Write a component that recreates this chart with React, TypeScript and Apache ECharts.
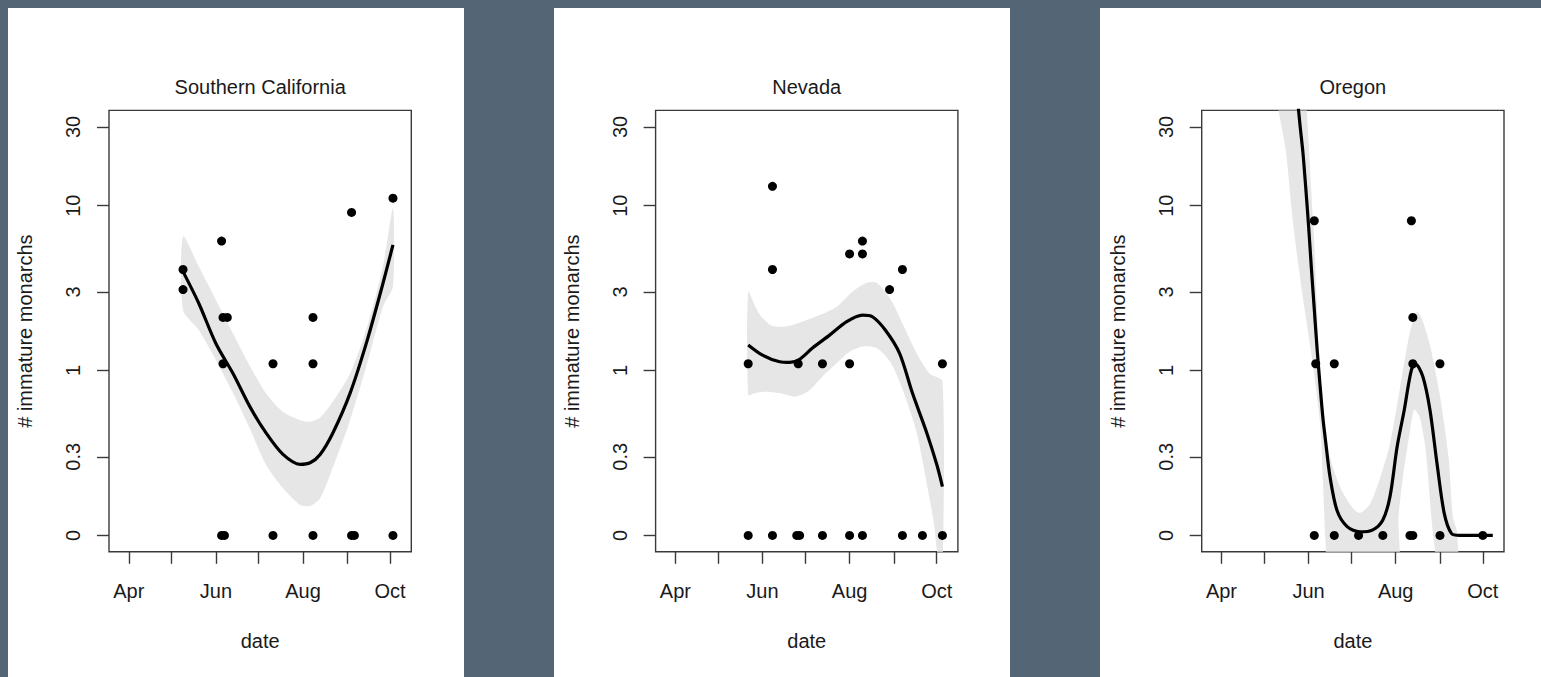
import React, { useEffect, useRef } from "react";
import * as echarts from "echarts";

type Pt = [string, number];

const REGIONS = ["Southern California", "Nevada", "Oregon"];
const Y_AXIS_TITLE = "# immature monarchs";
const X_AXIS_TITLE = "date";

const DATE_RANGE: [string, string] = ["2017-03-26", "2017-10-08"];
const MONTH_TICKS = ["2017-04-01", "2017-05-01", "2017-06-01", "2017-07-01", "2017-08-01", "2017-09-01", "2017-10-01"];
const MONTH_LABEL_DATES = ["2017-04-01", "2017-06-01", "2017-08-01", "2017-10-01"];
const MONTH_NAMES = ["Jan", "Feb", "Mar", "Apr", "May", "Jun", "Jul", "Aug", "Sep", "Oct", "Nov", "Dec"];

// counts are plotted on a log scale as (count + 0.1)
const COUNT_OFFSET = 0.1;
const COUNT_RANGE: [number, number] = [0, 30];
const Y_TICK_VALUES = [0.1, 0.3, 1, 3, 10, 30];
const Y_TICK_LABELS = ["0", "0.3", "1", "3", "10", "30"];

// ---------------- Southern California ----------------
const SOCAL_POINTS: Pt[] = [
  ["2017-05-09", 4], ["2017-05-09", 3],
  ["2017-06-05", 6], ["2017-06-05", 0],
  ["2017-06-06", 2], ["2017-06-09", 2], ["2017-06-06", 1], ["2017-06-07", 0],
  ["2017-07-11", 1], ["2017-07-11", 0],
  ["2017-08-08", 2], ["2017-08-08", 1], ["2017-08-08", 0],
  ["2017-09-04", 9], ["2017-09-04", 0], ["2017-09-06", 0],
  ["2017-10-03", 11], ["2017-10-03", 0],
];
const SOCAL_FIT: Pt[] = [
  ["2017-05-09", 3.88], ["2017-05-20", 2.46], ["2017-06-01", 1.36], ["2017-06-13", 0.86],
  ["2017-06-25", 0.5], ["2017-07-06", 0.32], ["2017-07-18", 0.21], ["2017-07-30", 0.17],
  ["2017-08-06", 0.176], ["2017-08-13", 0.21], ["2017-08-22", 0.32], ["2017-09-03", 0.63],
  ["2017-09-15", 1.43], ["2017-09-26", 3.28], ["2017-10-03", 5.68],
];
const SOCAL_UPPER: Pt[] = [
  ["2017-05-09", 6.39], ["2017-05-20", 4.17], ["2017-06-01", 2.58], ["2017-06-13", 1.58],
  ["2017-06-25", 0.96], ["2017-07-06", 0.63], ["2017-07-18", 0.46], ["2017-07-30", 0.4],
  ["2017-08-06", 0.39], ["2017-08-13", 0.42], ["2017-08-22", 0.55], ["2017-09-03", 0.86],
  ["2017-09-15", 1.75], ["2017-09-26", 4.17], ["2017-10-03", 9.54],
];
const SOCAL_LOWER: Pt[] = [
  ["2017-05-09", 2.23], ["2017-05-20", 1.66], ["2017-06-01", 1.06], ["2017-06-13", 0.63],
  ["2017-06-25", 0.34], ["2017-07-06", 0.17], ["2017-07-18", 0.093], ["2017-07-30", 0.053],
  ["2017-08-06", 0.051], ["2017-08-13", 0.068], ["2017-08-22", 0.16], ["2017-09-03", 0.4],
  ["2017-09-15", 1.01], ["2017-09-26", 2.34], ["2017-10-03", 3.13],
];

// ---------------- Nevada ----------------
const NEVADA_POINTS: Pt[] = [
  ["2017-05-22", 1], ["2017-05-22", 0],
  ["2017-06-08", 13], ["2017-06-08", 4], ["2017-06-08", 0],
  ["2017-06-26", 1], ["2017-06-25", 0], ["2017-06-27", 0],
  ["2017-07-13", 1], ["2017-07-13", 0],
  ["2017-08-01", 5], ["2017-08-01", 1], ["2017-08-01", 0],
  ["2017-08-10", 6], ["2017-08-10", 5], ["2017-08-10", 0],
  ["2017-08-29", 3],
  ["2017-09-07", 4], ["2017-09-07", 0],
  ["2017-09-21", 0],
  ["2017-10-05", 1], ["2017-10-05", 0],
];
const NEVADA_FIT: Pt[] = [
  ["2017-05-22", 1.33], ["2017-06-01", 1.14], ["2017-06-13", 1.03], ["2017-06-20", 1.02],
  ["2017-06-27", 1.07], ["2017-07-06", 1.27], ["2017-07-18", 1.54], ["2017-07-30", 1.88],
  ["2017-08-10", 2.07], ["2017-08-17", 2.02], ["2017-08-26", 1.66], ["2017-09-05", 1.17],
  ["2017-09-14", 0.63], ["2017-09-24", 0.32], ["2017-10-01", 0.17], ["2017-10-05", 0.098],
];
const NEVADA_UPPER: Pt[] = [
  ["2017-05-22", 2.91], ["2017-05-27", 2.34], ["2017-06-01", 1.98], ["2017-06-08", 1.76],
  ["2017-06-17", 1.75], ["2017-06-29", 1.88], ["2017-07-11", 2.07], ["2017-07-23", 2.34],
  ["2017-08-03", 2.91], ["2017-08-13", 3.31], ["2017-08-20", 3.31], ["2017-08-30", 2.58],
  ["2017-09-08", 1.75], ["2017-09-17", 1.17], ["2017-09-26", 0.86], ["2017-10-05", 0.76],
];
const NEVADA_LOWER: Pt[] = [
  ["2017-05-22", 0.61], ["2017-05-27", 0.63], ["2017-06-03", 0.645], ["2017-06-13", 0.63],
  ["2017-06-24", 0.595], ["2017-07-04", 0.66], ["2017-07-13", 0.82], ["2017-07-23", 1.01],
  ["2017-08-01", 1.2], ["2017-08-10", 1.3], ["2017-08-20", 1.27], ["2017-08-30", 1.01],
  ["2017-09-08", 0.63], ["2017-09-17", 0.32], ["2017-09-24", 0.107], ["2017-09-29", 0.019],
  ["2017-10-02", -0.029], ["2017-10-05", -0.042],
];

// ---------------- Oregon ----------------
const OREGON_POINTS: Pt[] = [
  ["2017-06-05", 8], ["2017-06-06", 1], ["2017-06-05", 0],
  ["2017-06-19", 1], ["2017-06-19", 0],
  ["2017-07-06", 0], ["2017-07-23", 0],
  ["2017-08-12", 8], ["2017-08-13", 2], ["2017-08-13", 1], ["2017-08-11", 0], ["2017-08-13", 0],
  ["2017-09-01", 1], ["2017-09-01", 0],
  ["2017-10-01", 0],
];
const OREGON_FIT: Pt[] = [
  ["2017-05-22", 77.5], ["2017-05-24", 46.8], ["2017-05-26", 30.7], ["2017-05-28", 21.1],
  ["2017-05-30", 12.8], ["2017-06-01", 7.43], ["2017-06-03", 4.04], ["2017-06-05", 2.25],
  ["2017-06-07", 1.24], ["2017-06-09", 0.72], ["2017-06-11", 0.42], ["2017-06-13", 0.267],
  ["2017-06-16", 0.127], ["2017-06-21", 0.041], ["2017-06-28", 0.013], ["2017-07-07", 0.005],
  ["2017-07-16", 0.008], ["2017-07-23", 0.024], ["2017-07-28", 0.072], ["2017-08-02", 0.245],
  ["2017-08-07", 0.477], ["2017-08-12", 0.91], ["2017-08-15", 0.99], ["2017-08-20", 0.82],
  ["2017-08-25", 0.477], ["2017-08-30", 0.17], ["2017-09-04", 0.036], ["2017-09-09", 0.003],
  ["2017-09-15", 0], ["2017-10-08", 0],
];
const OREGON_UPPER: Pt[] = [
  ["2017-05-28", 101], ["2017-05-30", 50], ["2017-06-01", 24.2], ["2017-06-03", 11.66],
  ["2017-06-05", 5.76], ["2017-06-07", 2.14], ["2017-06-09", 0.78], ["2017-06-11", 0.48],
  ["2017-06-13", 0.34], ["2017-06-16", 0.2], ["2017-06-23", 0.097], ["2017-07-02", 0.046],
  ["2017-07-07", 0.037], ["2017-07-14", 0.055], ["2017-07-21", 0.122], ["2017-07-28", 0.259],
  ["2017-08-04", 0.685], ["2017-08-11", 1.62], ["2017-08-16", 2.17], ["2017-08-19", 2.0],
  ["2017-08-25", 1.33], ["2017-09-01", 0.6], ["2017-09-07", 0.2], ["2017-09-10", 0.03],
  ["2017-09-13", 0.005],
];
const OREGON_LOWER: Pt[] = [
  ["2017-05-04", 76.4], ["2017-05-10", 41.5], ["2017-05-16", 21.5], ["2017-05-21", 7.95],
  ["2017-05-27", 3.08], ["2017-06-03", 1.15], ["2017-06-09", 0.384], ["2017-06-11", 0.117],
  ["2017-06-13", -0.012], ["2017-06-16", -0.05], ["2017-08-01", -0.05], ["2017-08-03", 0.03],
  ["2017-08-06", 0.124], ["2017-08-11", 0.33], ["2017-08-14", 0.48], ["2017-08-18", 0.416],
  ["2017-08-22", 0.23], ["2017-08-26", 0.028], ["2017-08-28", -0.012], ["2017-09-01", -0.05],
  ["2017-09-13", -0.05],
];

const PANELS = [
  { title: REGIONS[0], points: SOCAL_POINTS, fit: SOCAL_FIT, upper: SOCAL_UPPER, lower: SOCAL_LOWER },
  { title: REGIONS[1], points: NEVADA_POINTS, fit: NEVADA_FIT, upper: NEVADA_UPPER, lower: NEVADA_LOWER },
  { title: REGIONS[2], points: OREGON_POINTS, fit: OREGON_FIT, upper: OREGON_UPPER, lower: OREGON_LOWER },
];

// ---------------- layout / style ----------------
const BG = "#546576";
const PANEL_LEFT = [8, 554, 1100];
const PANEL_WIDTH = 456;
const GRID_LEFT = [109, 655.6, 1201.7];
const GRID_TOP = 110.4;
const GRID_W = 302.3;
const GRID_H = 441.4;
const FONT = "'Liberation Sans', Arial, sans-serif";
const TEXT = "#1a1a1a";
const AXIS = "#3a3a3a";
const RIBBON = "#e6e6e6";

const toTime = (s: string) => {
  const [y, m, d] = s.split("-").map(Number);
  return new Date(y, m - 1, d).getTime();
};

export default function App() {
  const ref = useRef<HTMLDivElement>(null);

  useEffect(() => {
    if (!ref.current) return;
    const chart = echarts.init(ref.current, null, { renderer: "svg" });

    const t0 = toTime(DATE_RANGE[0]);
    const t1 = toTime(DATE_RANGE[1]);
    const xp = (t1 - t0) * 0.04;
    const xMin = t0 - xp;
    const xMax = t1 + xp;
    const l0 = Math.log10(COUNT_RANGE[0] + COUNT_OFFSET);
    const l1 = Math.log10(COUNT_RANGE[1] + COUNT_OFFSET);
    const lp = (l1 - l0) * 0.04;
    const yMin = Math.pow(10, l0 - lp);
    const yMax = Math.pow(10, l1 + lp);

    const toXY = (p: Pt) => [toTime(p[0]), p[1] + COUNT_OFFSET];
    const tickTimes = MONTH_TICKS.map(toTime);
    const labelTimes = MONTH_LABEL_DATES.map(toTime);

    const yLabel = (v: number) => {
      let best = 0;
      for (let i = 1; i < Y_TICK_VALUES.length; i++) {
        if (Math.abs(Math.log(Y_TICK_VALUES[i] / v)) < Math.abs(Math.log(Y_TICK_VALUES[best] / v))) best = i;
      }
      return Y_TICK_LABELS[best];
    };

    const textStyle = { fontFamily: FONT, fontSize: 20, color: TEXT };

    const grids: any[] = [];
    const xAxes: any[] = [];
    const yAxes: any[] = [];
    const series: any[] = [];
    const graphics: any[] = [];

    PANELS.forEach((p, i) => {
      graphics.push({
        type: "rect",
        z: -100,
        silent: true,
        shape: { x: PANEL_LEFT[i], y: 8, width: PANEL_WIDTH, height: 700 },
        style: { fill: "#ffffff" },
      });
      graphics.push({
        type: "text",
        z: 10,
        x: GRID_LEFT[i] + GRID_W / 2,
        y: 87,
        style: { text: p.title, align: "center", verticalAlign: "middle", font: `20px ${FONT}`, fill: TEXT },
      });

      grids.push({
        left: GRID_LEFT[i],
        top: GRID_TOP,
        width: GRID_W,
        height: GRID_H,
        show: true,
        borderColor: AXIS,
        borderWidth: 1.4,
        backgroundColor: "transparent",
      });

      xAxes.push({
        type: "value",
        gridIndex: i,
        min: xMin,
        max: xMax,
        axisLine: { show: false },
        splitLine: { show: false },
        axisTick: { show: true, inside: false, length: 12, customValues: tickTimes, lineStyle: { color: AXIS, width: 1.4 } },
        axisLabel: {
          customValues: labelTimes,
          formatter: (v: number) => MONTH_NAMES[new Date(v).getMonth()],
          margin: 29,
          ...textStyle,
        },
        name: X_AXIS_TITLE,
        nameLocation: "middle",
        nameGap: 79,
        nameTextStyle: textStyle,
      });

      yAxes.push({
        type: "log",
        logBase: 10,
        gridIndex: i,
        min: yMin,
        max: yMax,
        axisLine: { show: false },
        splitLine: { show: false },
        axisTick: { show: true, inside: false, length: 12, customValues: Y_TICK_VALUES, lineStyle: { color: AXIS, width: 1.4 } },
        axisLabel: {
          customValues: Y_TICK_VALUES,
          rotate: 90,
          formatter: (v: number) => yLabel(v),
          margin: 26,
          ...textStyle,
        },
        name: Y_AXIS_TITLE,
        nameLocation: "middle",
        nameGap: 74,
        nameTextStyle: textStyle,
      });

      const poly = [...p.upper.map(toXY), ...p.lower.slice().reverse().map(toXY)];
      series.push({
        type: "custom",
        xAxisIndex: i,
        yAxisIndex: i,
        clip: true,
        silent: true,
        z: 1,
        data: poly,
        renderItem: (params: any, api: any) => {
          if (params.dataIndex !== 0) return null;
          const pts = poly.map((d) => api.coord(d));
          return {
            type: "polygon",
            shape: { points: pts, smooth: 0.25 },
            style: { fill: RIBBON, stroke: null },
          };
        },
      });
      series.push({
        type: "scatter",
        xAxisIndex: i,
        yAxisIndex: i,
        z: 3,
        symbol: "circle",
        symbolSize: 9,
        itemStyle: { color: "#000000", opacity: 1 },
        data: p.points.map(toXY),
      });
      series.push({
        type: "line",
        xAxisIndex: i,
        yAxisIndex: i,
        z: 4,
        clip: true,
        smooth: 0.3,
        showSymbol: false,
        symbol: "none",
        lineStyle: { color: "#000000", width: 3.2 },
        data: p.fit.map(toXY),
      });
    });

    chart.setOption({
      animation: false,
      backgroundColor: BG,
      textStyle: { fontFamily: FONT },
      graphic: { elements: graphics },
      grid: grids,
      xAxis: xAxes,
      yAxis: yAxes,
      series,
    });

    return () => chart.dispose();
  }, []);

  return <div ref={ref} style={{ position: "fixed", left: 0, top: 0, width: 1541, height: 677 }} />;
}
